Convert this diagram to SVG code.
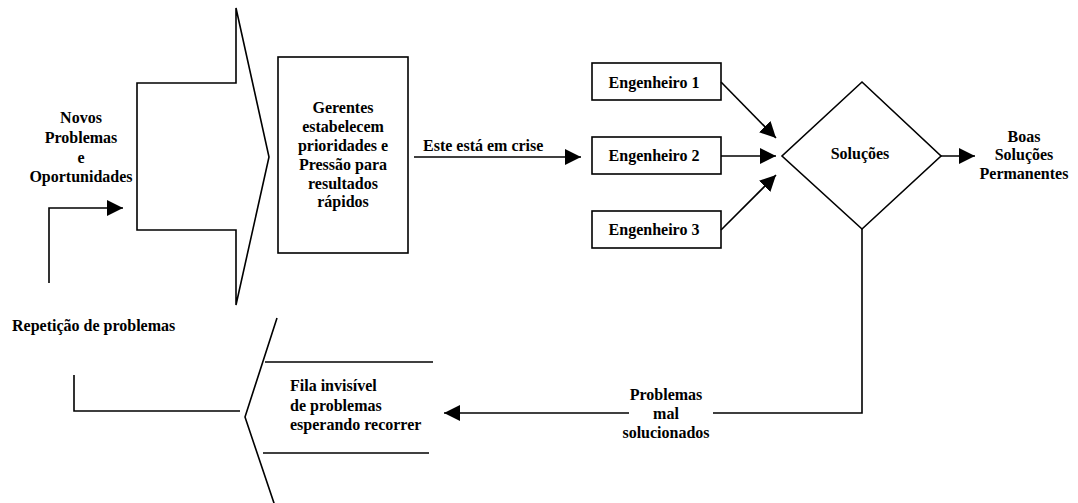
<svg xmlns="http://www.w3.org/2000/svg" width="1078" height="503" viewBox="0 0 1078 503">
  <style>
    .shape { fill: #ffffff; stroke: #000000; stroke-width: 1.6; }
    .line { fill: none; stroke: #000000; stroke-width: 1.6; }
    .lbl { font-family: "Liberation Serif", "Times New Roman", serif; font-weight: bold; font-size: 16px; fill: #000000; }
    .c { text-anchor: middle; }
  </style>
  <defs>
    <marker id="arrow" markerUnits="userSpaceOnUse" markerWidth="17" markerHeight="16" refX="16" refY="8" orient="auto">
      <path d="M0,0 L16,8 L0,16 z" fill="#000000"/>
    </marker>
  </defs>
  <rect width="1078" height="503" fill="#ffffff"/>

  <!-- incoming problems: big block arrow -->
  <g id="entrada">
    <path class="shape" d="M137,83 L236,83 L236,8 L269,157 L236,305 L236,230 L137,230 Z"/>
    <text class="lbl c" x="81" y="123">Novos</text>
    <text class="lbl c" x="81" y="143">Problemas</text>
    <text class="lbl c" x="81" y="163">e</text>
    <text class="lbl c" x="81" y="182">Oportunidades</text>
  </g>

  <!-- managers -->
  <g id="gerentes">
    <rect class="shape" x="278" y="57" width="130" height="196"/>
    <text class="lbl c" x="343" y="113">Gerentes</text>
    <text class="lbl c" x="343" y="132">estabelecem</text>
    <text class="lbl c" x="343" y="151">prioridades e</text>
    <text class="lbl c" x="343" y="170">Pressão para</text>
    <text class="lbl c" x="343" y="189">resultados</text>
    <text class="lbl c" x="343" y="207">rápidos</text>
  </g>

  <!-- engineers -->
  <g id="engenheiro1">
    <rect class="shape" x="592" y="63" width="129" height="37"/>
    <text class="lbl c" x="654" y="88">Engenheiro 1</text>
  </g>
  <g id="engenheiro2">
    <rect class="shape" x="592" y="137" width="129" height="37"/>
    <text class="lbl c" x="654" y="161">Engenheiro 2</text>
  </g>
  <g id="engenheiro3">
    <rect class="shape" x="592" y="211" width="129" height="37"/>
    <text class="lbl c" x="654" y="235">Engenheiro 3</text>
  </g>

  <!-- solutions decision -->
  <g id="solucoes">
    <path class="shape" d="M862,82 L941,156 L862,229 L782,156 Z"/>
    <text class="lbl c" x="860" y="159">Soluções</text>
  </g>

  <!-- permanent solutions -->
  <g id="boas-solucoes">
    <text class="lbl c" x="1024" y="142">Boas</text>
    <text class="lbl c" x="1024" y="160">Soluções</text>
    <text class="lbl c" x="1024" y="179">Permanentes</text>
  </g>

  <!-- hidden queue -->
  <g id="fila">
    <path class="line" d="M277,318 L245,417 L277,512"/>
    <line class="line" x1="265" y1="362" x2="433" y2="362"/>
    <line class="line" x1="263" y1="453" x2="429" y2="453"/>
    <text class="lbl" x="290" y="391">Fila invisível</text>
    <text class="lbl" x="290" y="411">de problemas</text>
    <text class="lbl" x="290" y="430">esperando recorrer</text>
  </g>

  <!-- repetition -->
  <g id="repeticao">
    <text class="lbl" x="12" y="331">Repetição de problemas</text>
  </g>

  <!-- connectors -->
  <g id="conectores">
    <path class="line" d="M49,283 L49,208 L123,208" marker-end="url(#arrow)"/>
    <line class="line" x1="414" y1="157" x2="581" y2="157" marker-end="url(#arrow)"/>
    <text class="lbl" x="423" y="151">Este está<tspan dx="4">em crise</tspan></text>
    <line class="line" x1="721" y1="82" x2="776" y2="138" marker-end="url(#arrow)"/>
    <line class="line" x1="721" y1="156" x2="776" y2="156" marker-end="url(#arrow)"/>
    <line class="line" x1="721" y1="230" x2="776" y2="175" marker-end="url(#arrow)"/>
    <line class="line" x1="941" y1="156" x2="975" y2="156" marker-end="url(#arrow)"/>
    <path class="line" d="M862,229 L862,413 L713,413"/>
    <line class="line" x1="629" y1="413" x2="444" y2="413" marker-end="url(#arrow)"/>
    <text class="lbl c" x="666" y="400">Problemas</text>
    <text class="lbl c" x="666" y="419">mal</text>
    <text class="lbl c" x="666" y="438">solucionados</text>
    <path class="line" d="M74,375 L74,411 L240,411"/>
  </g>
</svg>
